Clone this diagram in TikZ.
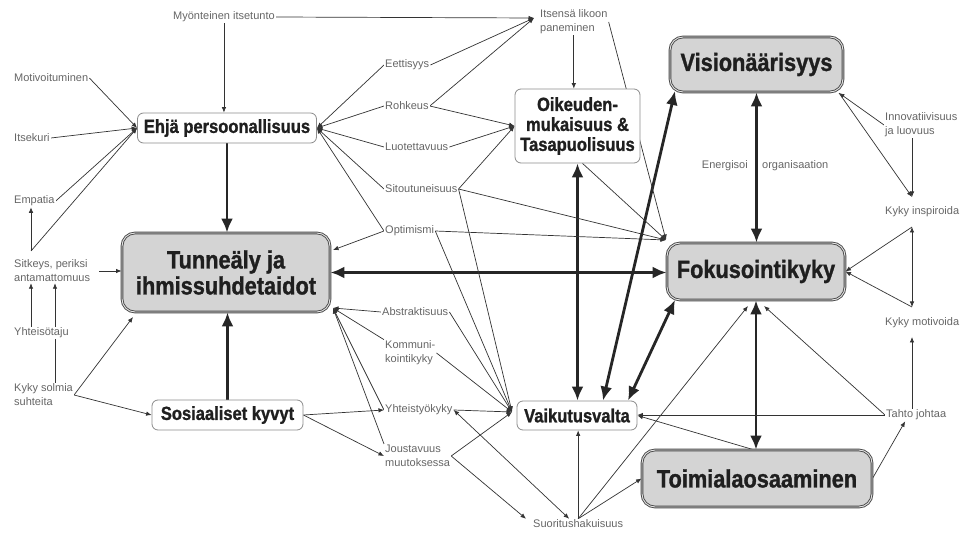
\documentclass[tikz,border=0pt]{standalone}
\usepackage{fontspec}
\setmainfont{Liberation Sans}
\newfontfamily\boxfont{Liberation Sans}[FakeStretch=0.87,FakeBold=1.2]
\usetikzlibrary{arrows.meta,calc}
\pgfdeclarelayer{bg}
\pgfsetlayers{bg,main}
\begin{document}
\begin{tikzpicture}[x=1pt,y=-1pt,
  lbl/.style={font=\fontsize{11}{14}\selectfont, text=black!60, inner sep=1pt, anchor=west, align=left, fill=white},
  wbox/.style={draw=black!45, line width=0.8pt, rounded corners=6pt, fill=white, inner sep=0pt, align=center, text=black!88, font=\boxfont\bfseries\fontsize{19}{20}\selectfont},
  gbox/.style={draw=black!72, line width=0.9pt, double=black!10, double distance=0.9pt, rounded corners=13pt, fill=black!17, inner sep=0pt, align=center, text=black!88, font=\boxfont\bfseries\fontsize{25}{26}\selectfont},
  thn/.style={line width=0.7pt, draw=black!80},
  ar/.style={thn, arrows={-Latex[length=5.5pt,width=4.5pt]}},
  arb/.style={thn, arrows={Latex[length=5.5pt,width=4.5pt]-Latex[length=5.5pt,width=4.5pt]}},
  thk/.style={line width=2.8pt, draw=black!85, arrows={-Latex[length=14pt,width=12pt]}},
  thkb/.style={line width=2.8pt, draw=black!85, arrows={Latex[length=14pt,width=12pt]-Latex[length=14pt,width=12pt]}},
]
\useasboundingbox (0,0) rectangle (961,534);

% main boxes
\node[wbox, minimum width=179pt, minimum height=30pt] (ehja) at (227,128) {Ehjä persoonallisuus};
\node[gbox, minimum width=208pt, minimum height=79pt] (tunne) at (226,272.5) {Tunneäly ja\\ihmissuhdetaidot};
\node[wbox, minimum width=151pt, minimum height=30pt] (sosi) at (227.5,415) {Sosiaaliset kyvyt};
\node[wbox, minimum width=125pt, minimum height=74pt] (oik) at (577.5,126) {Oikeuden-\\mukaisuus \&\\Tasapuolisuus};
\node[wbox, minimum width=120pt, minimum height=29pt] (vaik) at (577,415.5) {Vaikutusvalta};
\node[gbox, minimum width=173pt, minimum height=55pt] (visi) at (756.5,64.5) {Visionäärisyys};
\node[gbox, minimum width=178pt, minimum height=57pt] (foku) at (756,271.5) {Fokusointikyky};
\node[gbox, minimum width=230pt, minimum height=57pt] (toim) at (757,478.5) {Toimialaosaaminen};

% labels
\node[lbl] (myon) at (172,17) {Myönteinen itsetunto};
\node[lbl] (itsen) at (539,22) {Itsensä likoon\\paneminen};
\node[lbl] (eett) at (384,65) {Eettisyys};
\node[lbl] (rohk) at (384,106) {Rohkeus};
\node[lbl] (luot) at (384,147) {Luotettavuus};
\node[lbl] (sito) at (384,189) {Sitoutuneisuus};
\node[lbl] (opti) at (384,231) {Optimismi};
\node[lbl] (abst) at (381,312) {Abstraktisuus};
\node[lbl] (komm) at (384,353) {Kommuni-\\kointikyky};
\node[lbl] (yhtk) at (384,410) {Yhteistyökyky};
\node[lbl] (jous) at (384,456) {Joustavuus\\muutoksessa};
\node[lbl] (suor) at (532,524) {Suoritushakuisuus};
\node[lbl] (motiv) at (13,78) {Motivoituminen};
\node[lbl] (itsek) at (13,138) {Itsekuri};
\node[lbl] (empa) at (13,201) {Empatia};
\node[lbl] (sitk) at (13,271) {Sitkeys, periksi\\antamattomuus};
\node[lbl] (yht) at (13,333) {Yhteisötaju};
\node[lbl] (kyky) at (13,395) {Kyky solmia\\suhteita};
\node[lbl, anchor=east] (ener1) at (749,166) {Energisoi};
\node[lbl] (ener2) at (761,166) {organisaation};
\node[lbl] (inno) at (884,125) {Innovatiivisuus\\ja luovuus};
\node[lbl] (insp) at (884,212) {Kyky inspiroida};
\node[lbl] (moti2) at (884,323) {Kyky motivoida};
\node[lbl] (taht) at (885,415) {Tahto johtaa};

% junction points
\coordinate (itsenIn) at (534,18);
\coordinate (fokuIn) at (666,240);
\coordinate (tunneBR) at (333,308);
\coordinate (tunneTR) at (333,250);
\coordinate (tunneBL) at (133,317);
\coordinate (vaikW) at (512,412);
\coordinate (sitkTop) at (31,251);
\coordinate (xk) at (55,0);
\coordinate (visiBL) at (675,91);
\coordinate (visiBR) at (839,93);
\coordinate (fokuBL) at (675,300);
\coordinate (fokuBR) at (764,306);
\coordinate (fokuB2) at (748,306);
\coordinate (inspT) at (912,197);
\coordinate (inspB) at (912,227);
\coordinate (motiT) at (912,307);
\coordinate (motiB) at (912,337);

\begin{pgfonlayer}{bg}
\fill[white] (0,0) rectangle (961,534);
% top area
\draw[ar] (myon.south) -- (myon.south |- ehja.north);
\draw[ar] (myon.east) -- (itsenIn);
\draw[ar] (eett.east) -- (itsenIn);
\draw[ar] (rohk.east) -- (itsenIn);
\draw[ar] (itsen.south) -- (itsen.south |- oik.north);
\draw[ar] (rohk.east) -- (oik.west);
\draw[ar] (luot.east) -- (oik.west);
\draw[ar] (sito.east) -- (oik.west);
\foreach \n in {eett,rohk,luot,sito,opti} \draw[ar] (\n.west) -- (ehja.east);
% left column
\draw[ar] (motiv.east) -- (ehja.west);
\draw[ar] (itsek.east) -- (ehja.west);
\draw[ar] (empa.east) -- (ehja.west);
\draw[ar] (sitkTop) -- (ehja.west);
\draw[ar] (sitkTop) -- (sitkTop |- empa.south);
\draw[ar] ([xshift=8pt]sitk.east) -- (sitk.east -| tunne.west);
\draw[ar] (yht.north -| sitkTop) -- (sitk.south -| sitkTop);
\draw[ar] (kyky.north -| xk) -- (sitk.south -| xk);
\draw[ar] (kyky.east) -- (tunneBL);
\draw[ar] (kyky.east) -- (sosi.west);
% thick
\draw[thk] (ehja.south) -- (ehja.south |- tunne.north);
\draw[thk] (sosi.north) -- (sosi.north |- tunne.south);
\draw[thkb] (tunne.east) -- (tunne.east -| foku.west);
\draw[thkb] (oik.south) -- (oik.south |- vaik.north);
\draw[thkb] ([xshift=26pt]vaik.north) -- (visiBL);
\draw[thkb] ([xshift=51pt]vaik.north) -- (fokuBL);
\draw[thkb] (visi.south) -- (visi.south |- foku.north);
\draw[thkb] (foku.south) -- (foku.south |- toim.north);
% middle
\draw[ar] (sosi.east) -- (yhtk.west);
\draw[ar] (sosi.east) -- (jous.west);
\draw[ar] (abst.west) -- (tunneBR);
\draw[ar] (komm.north west) -- (tunneBR);
\draw[ar] (yhtk.west) -- (tunneBR);
\draw[ar] (jous.north west) -- (tunneBR);
\draw[ar] (opti.west) -- (tunneTR);
\foreach \n in {sito,opti,abst,komm,yhtk,jous} \draw[ar] (\n.east) -- (vaikW);
\foreach \n in {opti,sito} \draw[ar] (\n.east) -- (fokuIn);
\draw[ar] ([xshift=5pt]oik.south) -- (fokuIn);
\draw[ar] (itsen.east) -- (fokuIn);
% right
\draw[ar] (inno.west) -- (visiBR);
\draw[ar] (visiBR) -- (inspT);
\draw[ar] (inno.south -| inspT) -- (inspT);
\draw[arb] (inspB) -- (motiT);
\draw[ar] (inspB) -- (foku.east);
\draw[ar] (motiT) -- (foku.east);
\draw[ar] (taht.north -| inspT) -- (motiB);
\draw[ar] (taht.west) -- (fokuBR);
\draw[ar] (taht.west) -- (taht.west -| vaik.east);
\draw[ar] ([xshift=-4pt]toim.north) -- (vaik.east);
\draw[ar] (toim.east) -- ([xshift=-11pt]taht.south);
% bottom
\draw[ar] (suor.north) -- (suor.north |- vaik.south);
\draw[ar] (suor.north) -- (toim.west);
\draw[ar] (suor.north) -- (fokuB2);
\draw[ar] (jous.east) -- ([xshift=-6pt]suor.north west);
\draw[arb] (yhtk.east) -- ([xshift=-9pt]suor.north);
\end{pgfonlayer}
\end{tikzpicture}
\end{document}
